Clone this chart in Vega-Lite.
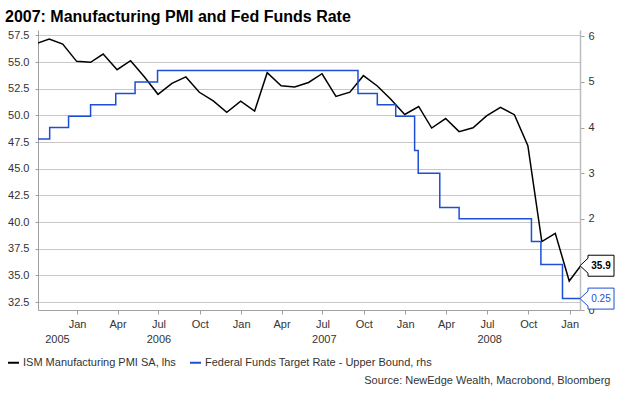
{
  "$schema": "https://vega.github.io/schema/vega-lite/v6.json",
  "width": 542,
  "height": 280,
  "autosize": "none",
  "padding": {"left": 38, "top": 30, "right": 43, "bottom": 85},
  "title": {
    "text": "2007: Manufacturing PMI and Fed Funds Rate",
    "anchor": "start",
    "frame": "group",
    "dx": -33,
    "offset": 4,
    "font": "Liberation Sans",
    "fontSize": 16,
    "fontWeight": "bold",
    "color": "#000000"
  },
  "datasets": {
    "pmi": [
      {"date": "2005-09-30", "pmi": 56.7},
      {"date": "2005-10-31", "pmi": 57.15},
      {"date": "2005-11-30", "pmi": 56.68},
      {"date": "2005-12-31", "pmi": 55.06},
      {"date": "2006-01-31", "pmi": 54.97},
      {"date": "2006-02-28", "pmi": 55.75},
      {"date": "2006-03-31", "pmi": 54.28},
      {"date": "2006-04-30", "pmi": 55.12},
      {"date": "2006-05-31", "pmi": 53.6},
      {"date": "2006-06-30", "pmi": 51.97},
      {"date": "2006-07-31", "pmi": 53.0},
      {"date": "2006-08-31", "pmi": 53.6},
      {"date": "2006-09-30", "pmi": 52.16},
      {"date": "2006-10-31", "pmi": 51.35},
      {"date": "2006-11-30", "pmi": 50.28},
      {"date": "2006-12-31", "pmi": 51.33},
      {"date": "2007-01-31", "pmi": 50.4},
      {"date": "2007-02-28", "pmi": 54.0},
      {"date": "2007-03-31", "pmi": 52.77},
      {"date": "2007-04-30", "pmi": 52.66},
      {"date": "2007-05-31", "pmi": 53.08},
      {"date": "2007-06-30", "pmi": 53.9},
      {"date": "2007-07-31", "pmi": 51.78},
      {"date": "2007-08-31", "pmi": 52.17},
      {"date": "2007-09-30", "pmi": 53.72},
      {"date": "2007-10-31", "pmi": 52.75},
      {"date": "2007-11-30", "pmi": 51.5},
      {"date": "2007-12-31", "pmi": 50.08},
      {"date": "2008-01-31", "pmi": 50.83},
      {"date": "2008-02-29", "pmi": 48.81},
      {"date": "2008-03-31", "pmi": 49.7},
      {"date": "2008-04-30", "pmi": 48.47},
      {"date": "2008-05-31", "pmi": 48.84},
      {"date": "2008-06-30", "pmi": 49.94},
      {"date": "2008-07-31", "pmi": 50.75},
      {"date": "2008-08-31", "pmi": 50.06},
      {"date": "2008-09-30", "pmi": 47.15},
      {"date": "2008-10-31", "pmi": 38.16},
      {"date": "2008-11-30", "pmi": 38.94},
      {"date": "2008-12-31", "pmi": 34.47},
      {"date": "2009-01-31", "pmi": 36.2}
    ],
    "fed": [
      {"date": "2005-10-01", "rate": 3.75},
      {"date": "2005-11-01", "rate": 4.0},
      {"date": "2005-12-13", "rate": 4.25},
      {"date": "2006-01-31", "rate": 4.5},
      {"date": "2006-03-28", "rate": 4.75},
      {"date": "2006-05-10", "rate": 5.0},
      {"date": "2006-06-29", "rate": 5.25},
      {"date": "2007-09-18", "rate": 4.75},
      {"date": "2007-10-31", "rate": 4.5},
      {"date": "2007-12-11", "rate": 4.25},
      {"date": "2008-01-22", "rate": 3.5},
      {"date": "2008-01-30", "rate": 3.0},
      {"date": "2008-03-18", "rate": 2.25},
      {"date": "2008-04-30", "rate": 2.0},
      {"date": "2008-10-08", "rate": 1.5},
      {"date": "2008-10-29", "rate": 1.0},
      {"date": "2008-12-16", "rate": 0.25},
      {"date": "2009-01-24", "rate": 0.25}
    ],
    "pmiLast": [{"date": "2009-01-24", "pmi": 35.9}],
    "fedLast": [{"date": "2009-01-24", "rate": 0.25}]
  },
  "layer": [
    {
      "encoding": {
        "x": {
          "field": "date",
          "type": "temporal",
          "title": null,
          "scale": {
            "type": "utc",
            "domain": [
              {"year": 2005, "month": 10, "date": 6, "utc": true},
              {"year": 2009, "month": 1, "date": 24, "utc": true}
            ]
          },
          "axis": {
            "orient": "bottom",
            "values": [
              {"year": 2006, "month": 1, "date": 1, "utc": true},
              {"year": 2006, "month": 4, "date": 1, "utc": true},
              {"year": 2006, "month": 7, "date": 1, "utc": true},
              {"year": 2006, "month": 10, "date": 1, "utc": true},
              {"year": 2007, "month": 1, "date": 1, "utc": true},
              {"year": 2007, "month": 4, "date": 1, "utc": true},
              {"year": 2007, "month": 7, "date": 1, "utc": true},
              {"year": 2007, "month": 10, "date": 1, "utc": true},
              {"year": 2008, "month": 1, "date": 1, "utc": true},
              {"year": 2008, "month": 4, "date": 1, "utc": true},
              {"year": 2008, "month": 7, "date": 1, "utc": true},
              {"year": 2008, "month": 10, "date": 1, "utc": true},
              {"year": 2009, "month": 1, "date": 1, "utc": true}
            ],
            "labelExpr": "utcFormat(datum.value, '%b')",
            "grid": false,
            "tickSize": 4,
            "labelPadding": 4,
            "labelFlush": false,
            "labelOverlap": false
          }
        },
        "y": {
          "field": "pmi",
          "type": "quantitative",
          "title": null,
          "scale": {"domain": [31.75, 58.0], "nice": false, "zero": false},
          "axis": {
            "values": [32.5, 35, 37.5, 40, 42.5, 45, 47.5, 50, 52.5, 55, 57.5],
            "format": ".1f",
            "grid": true,
            "tickSize": 3,
            "labelPadding": 6
          }
        }
      },
      "layer": [
        {
          "data": {"name": "pmi"},
          "mark": {"type": "line", "clip": true, "strokeWidth": 1.5},
          "encoding": {
            "color": {
              "datum": "ISM Manufacturing PMI SA, lhs",
              "type": "nominal",
              "scale": {
                "domain": ["ISM Manufacturing PMI SA, lhs", "Federal Funds Target Rate - Upper Bound, rhs"],
                "range": ["#000000", "#1d4fd6"]
              },
              "legend": {
                "orient": "none",
                "legendX": -31,
                "legendY": 326,
                "direction": "horizontal",
                "columns": 2,
                "title": null,
                "symbolType": "stroke",
                "symbolSize": 121,
                "symbolStrokeWidth": 2,
                "labelFontSize": 11,
                "labelColor": "#333333",
                "labelLimit": 400,
                "columnPadding": 10,
                "labelOffset": 3
              }
            }
          }
        },
        {
          "data": {"name": "pmiLast"},
          "mark": {
            "type": "point",
            "shape": "M0,0L0.8,-0.75L0.8,-1.05L3.4,-1.05L3.4,1.05L0.8,1.05L0.8,0.75Z",
            "size": 400,
            "filled": true,
            "fill": "#ffffff",
            "stroke": "#000000",
            "strokeWidth": 1,
            "opacity": 1
          }
        },
        {
          "data": {"name": "pmiLast"},
          "mark": {
            "type": "text",
            "dx": 21,
            "align": "center",
            "baseline": "middle",
            "fontSize": 10,
            "fontWeight": "bold",
            "color": "#000000"
          },
          "encoding": {
            "text": {"field": "pmi", "type": "quantitative", "format": ".1f"}
          }
        }
      ]
    },
    {
      "encoding": {
        "x": {
          "field": "date",
          "type": "temporal",
          "title": "Source: NewEdge Wealth, Macrobond, Bloomberg",
          "scale": {
            "type": "utc",
            "domain": [
              {"year": 2005, "month": 10, "date": 6, "utc": true},
              {"year": 2009, "month": 1, "date": 24, "utc": true}
            ]
          },
          "axis": {
            "orient": "bottom",
            "values": [
              {"year": 2005, "month": 11, "date": 17, "utc": true},
              {"year": 2006, "month": 7, "date": 1, "utc": true},
              {"year": 2007, "month": 7, "date": 4, "utc": true},
              {"year": 2008, "month": 7, "date": 6, "utc": true}
            ],
            "labelExpr": "utcFormat(datum.value, '%Y')",
            "grid": false,
            "ticks": false,
            "tickSize": 0,
            "domain": false,
            "labelPadding": 23,
            "labelFlush": false,
            "labelOverlap": false,
            "titleX": 572,
            "titleY": 70,
            "titleAnchor": null,
            "titleAlign": "right",
            "titleBaseline": "middle",
            "titleFontWeight": "normal",
            "titleFontSize": 11,
            "titleColor": "#333333"
          }
        },
        "y": {
          "field": "rate",
          "type": "quantitative",
          "title": null,
          "scale": {"domain": [0, 6.14], "nice": false, "zero": false},
          "axis": {
            "orient": "right",
            "values": [0, 2, 3, 4, 5, 6],
            "grid": false,
            "tickSize": 4,
            "labelPadding": 4,
            "domainColor": "#bdbdbd",
            "domainWidth": 1.5
          }
        }
      },
      "layer": [
        {
          "data": {"name": "fed"},
          "mark": {"type": "line", "clip": true, "strokeWidth": 1.5, "interpolate": "step-after"},
          "encoding": {
            "color": {
              "datum": "Federal Funds Target Rate - Upper Bound, rhs",
              "type": "nominal"
            }
          }
        },
        {
          "data": {"name": "fedLast"},
          "mark": {
            "type": "point",
            "shape": "M0,0L0.8,-0.75L0.8,-1.05L3.4,-1.05L3.4,1.05L0.8,1.05L0.8,0.75Z",
            "size": 400,
            "filled": true,
            "fill": "#ffffff",
            "stroke": "#1d4fd6",
            "strokeWidth": 1,
            "opacity": 1
          }
        },
        {
          "data": {"name": "fedLast"},
          "mark": {
            "type": "text",
            "dx": 21,
            "align": "center",
            "baseline": "middle",
            "fontSize": 10,
            "color": "#1d4fd6"
          },
          "encoding": {
            "text": {"field": "rate", "type": "quantitative", "format": ".2f"}
          }
        }
      ]
    }
  ],
  "resolve": {"scale": {"y": "independent"}, "axis": {"x": "independent", "y": "independent"}},
  "config": {
    "view": {"stroke": null},
    "font": "Liberation Sans",
    "axis": {
      "labelFont": "Liberation Sans",
      "labelFontSize": 11,
      "labelColor": "#333333",
      "titleFont": "Liberation Sans",
      "domainColor": "#a0a0a0",
      "tickColor": "#a0a0a0",
      "gridColor": "#c8c8c8"
    },
    "legend": {"labelFont": "Liberation Sans"}
  }
}
